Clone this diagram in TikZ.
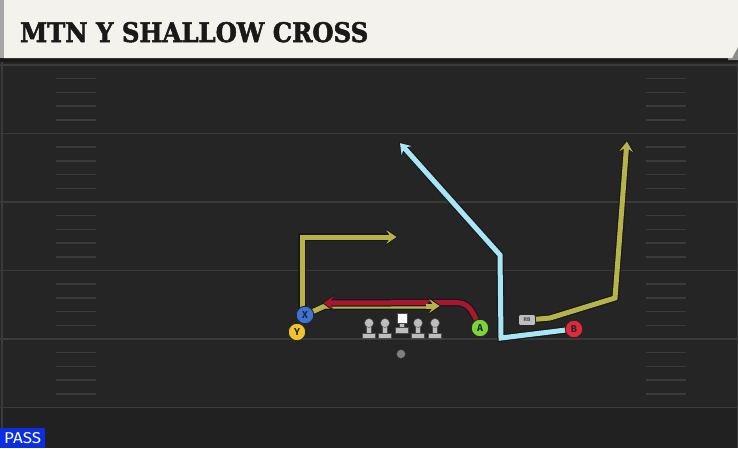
\documentclass[tikz,border=0pt]{standalone}
\usepackage{fontspec}
\usepackage{graphicx}
\newfontfamily\titlefont[FakeBold=2]{DejaVu Serif}
\newfontfamily\labfont{Fira Sans}
\usetikzlibrary{arrows.meta}
\definecolor{fieldbg}{HTML}{252525}
\definecolor{fieldline}{HTML}{3A3A3A}
\definecolor{hdr}{HTML}{F4F2EC}
\definecolor{olive}{HTML}{B6B34A}
\definecolor{redr}{HTML}{A8172F}
\definecolor{bluer}{HTML}{A9E6F5}
\definecolor{pX}{HTML}{3F72D6}
\definecolor{pY}{HTML}{F0C52C}
\definecolor{pA}{HTML}{78D63A}
\definecolor{pB}{HTML}{E02A3C}
\definecolor{lineman}{HTML}{BEBEBE}
\definecolor{passblue}{HTML}{0B2FE0}
\tikzset{
  outl/.style={draw=black!90,line width=7.5pt,line join=miter,-{Stealth[length=12.5pt,width=17.5pt,inset=5pt]}},
  routeline/.style={line width=5pt,line join=miter,shorten >=1.5pt,-{Stealth[length=10pt,width=13.5pt,inset=4pt]}},
  player/.style={circle,draw=black!85,line width=0.9pt,minimum size=17.5pt,inner sep=0pt,font=\labfont\bfseries\fontsize{10}{10}\selectfont,text=black!85},
  hashm/.style={draw=fieldline,line width=1.5pt},
  yardl/.style={draw=fieldline,line width=1.6pt},
  lmhead/.style={fill=lineman,draw=black!70,line width=0.4pt},
}
\begin{document}
\begin{tikzpicture}[x=1pt,y=-1pt]
\useasboundingbox (0,0) rectangle (738,448);
% field
\fill[fieldbg] (0,0) rectangle (738,448);
\fill[black!12!fieldbg] (0,408) rectangle (738,448);
\foreach \k in {0,...,5}{
  \draw[yardl] (0,65+68.5*\k) -- (738,65+68.5*\k);
}
\foreach \k in {1,...,24}{
  \pgfmathtruncatemacro\m{mod(\k,5)}
  \ifnum\m>0
    \draw[hashm] (56,65+13.7*\k) -- (96,65+13.7*\k);
    \draw[hashm] (646,65+13.7*\k) -- (686,65+13.7*\k);
  \fi
}
\draw[fieldline,line width=1.5pt] (2,60) -- (2,448);
\draw[fieldline,line width=1pt] (737.5,60) -- (737.5,448);
% header
\fill[black!90] (0,56) rectangle (738,62);
\fill[black!45] (730,46) -- (738,46) -- (738,60) -- (728,60) -- cycle;
\fill[hdr] (4,0) -- (738,0) -- (738,47) -- (732,58) -- (4,58) -- cycle;
\fill[black!35] (0,0) rectangle (4,58);
\node[anchor=base west,inner sep=0pt,text=black!90] (title) at (20,42)
  {\resizebox{348pt}{20pt}{\titlefont\bfseries MTN Y SHALLOW CROSS}};
% PASS
\node[fill=passblue,anchor=south west,minimum width=45pt,minimum height=20pt,inner sep=0pt] (pass) at (0,448)
  {\resizebox{37pt}{11pt}{\labfont\color{white}PASS}};
% players coordinates
\coordinate (Xc) at (305,315);
\coordinate (Yc) at (297,332);
\coordinate (Ac) at (480,328);
\coordinate (Bc) at (574,329);
\coordinate (RBc) at (527,320);
\coordinate (yend) at (398,237);
\coordinate (send) at (441,306);
\coordinate (rend) at (322,303);
\coordinate (bend) at (399,142);
\coordinate (rbend) at (627,140);
% Y/X vertical-out route
\draw[outl] (302,315) |- (yend);
\draw[routeline,olive] (302,315) |- (yend);
% shallow cross
\draw[outl] (Xc) -- (325,306) -- (send);
\draw[routeline,olive] (Xc) -- (325,306) -- (send);
% red A route
\draw[outl] (Ac) .. controls (472,310) and (469,302.5) .. (455,302.5) -- (rend);
\draw[routeline,redr] (Ac) .. controls (472,310) and (469,302.5) .. (455,302.5) -- (rend);
% re-draw shallow arrowhead on top
\draw[outl] (428,306) -- (send);
\draw[routeline,olive] (426,306) -- (send);
% blue B route
\draw[outl] (Bc) -- (501,338) -- (500,255) -- (bend);
\draw[routeline,bluer] (Bc) -- (501,338) -- (500,255) -- (bend);
% RB route
\draw[outl] (RBc) -- (550,318) -- (615,298) -- (rbend);
\draw[routeline,olive] (RBc) -- (550,318) -- (615,298) -- (rbend);
% linemen
\foreach \x/\n in {369/l1,385/l2,418/l4,435/l5}{
  \fill[lmhead] (\x-2.5,324) rectangle (\x+2.5,334);
  \fill[lmhead] (\x-6.5,333) rectangle (\x+6.5,338.5);
  \node[circle,lmhead,minimum size=9pt,inner sep=0pt] (\n) at (\x,323) {};
}
\fill[lmhead] (399.5,322) rectangle (404.5,329);
\fill[lmhead] (395.5,327.5) rectangle (408.5,333);
\node[fill=white,draw=black!70,line width=0.4pt,minimum size=10pt,inner sep=0pt] (center) at (402,318.5) {};
\node[circle,fill=black!50,draw=black!80,line width=0.4pt,minimum size=9pt,inner sep=0pt] (qb) at (401,354) {};
% players
\node[player,fill=pY] (Y) at (Yc) {Y};
\node[player,fill=pX] (X) at (Xc) {X};
\node[player,fill=pA] (A) at (Ac) {A};
\node[player,fill=pB] (B) at (Bc) {B};
\node[rounded corners=2.5pt,fill=lineman,draw=black!85,line width=0.6pt,minimum width=17pt,minimum height=11pt,inner sep=0pt,font=\labfont\bfseries\fontsize{5.5}{5.5}\selectfont,text=black!70] (RB) at (RBc) {RB};
\end{tikzpicture}
\end{document}
